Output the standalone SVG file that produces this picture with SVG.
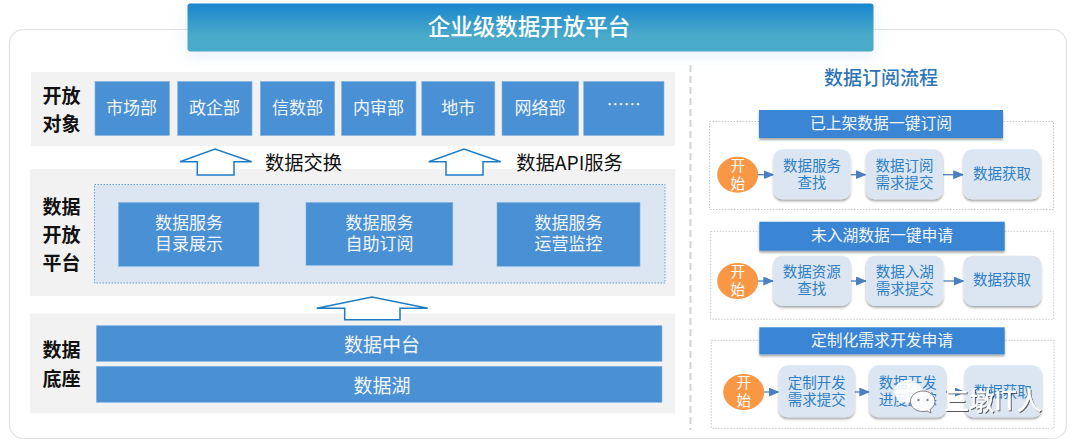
<svg xmlns="http://www.w3.org/2000/svg" width="1080" height="448" viewBox="0 0 1080 448">
<defs>
<linearGradient id="tg" x1="0" y1="0" x2="0" y2="1"><stop offset="0" stop-color="#1a86cf"/><stop offset="0.65" stop-color="#48a9c9"/><stop offset="1" stop-color="#4aaac8"/></linearGradient>
<filter id="sh" x="-10%" y="-10%" width="120%" height="130%"><feDropShadow dx="0" dy="2" stdDeviation="1" flood-color="#000" flood-opacity="0.35"/></filter>
<filter id="glow" x="-5%" y="-30%" width="110%" height="170%"><feDropShadow dx="0" dy="4" stdDeviation="8" flood-color="#4a90d0" flood-opacity="0.15"/></filter>
<filter id="wm" x="-10%" y="-20%" width="120%" height="140%"><feDropShadow dx="1" dy="1" stdDeviation=".5" flood-color="#333" flood-opacity="0.8"/></filter>
<marker id="ah" markerWidth="11" markerHeight="10" refX="10" refY="4.500" orient="auto" markerUnits="userSpaceOnUse"><path d="M0 0L11 4.500L0 9Z" fill="#4a7fc1"/></marker>
</defs>
<style>
text{font-family:"Noto Sans CJK SC","Noto Sans",sans-serif;text-anchor:middle;dominant-baseline:central;transform:translateY(-1.5px)}
.band{fill:#f2f2f2}
.b{fill:#4a90d4;stroke:#7fb2e0;stroke-width:.6}
.w{fill:#f2f6fb;font-size:17px}
.w2{fill:#f2f6fb;font-size:19px}
.l{fill:#111;font-size:19px;font-weight:700}
.t{fill:#3a85d5;filter:url(#sh)}
.tt{fill:#f2f6fb;font-size:15.800px}
.p{fill:#dce6f2;filter:url(#sh)}
.pt{fill:#2e7fc4;font-size:14.500px}
.st{fill:#f99745}
.stt{fill:#fff;font-size:14.500px}
.dash{fill:none;stroke:#bbb;stroke-width:.8;stroke-dasharray:1.500 1.500}
.up{fill:#fff;stroke:#1f7cc4;stroke-width:1.500}
.c{fill:none;stroke:#4a7fc1;stroke-width:1.300;marker-end:url(#ah)}
.k{fill:#111;font-size:19.300px}
</style>
<rect width="1080" height="448" fill="#fff"/>
<rect x="9.500" y="29.500" width="1057" height="409" rx="14" fill="#fff" stroke="#e2e2e2" stroke-width="1.200"/>
<line x1="690.500" y1="65" x2="690.500" y2="430" stroke="#d4d4d4" stroke-width="2" stroke-dasharray="7 4"/>

<g id="title"><rect x="187.500" y="3.500" width="686" height="48" rx="3" fill="url(#tg)" filter="url(#glow)"/>
<text x="529" y="26" fill="#fff" font-size="22.500" font-weight="500">企业级数据开放平台</text></g>

<g id="band-open"><rect class="band" x="31" y="72" width="644" height="74"/>
<text class="l" x="61.500" y="96">开放</text><text class="l" x="61.500" y="124">对象</text>
<rect class="b" x="95" y="81.500" width="74.500" height="54"/><text class="w" x="131.500" y="108">市场部</text>
<rect class="b" x="177.700" y="81.500" width="74.300" height="54"/><text class="w" x="214.500" y="108">政企部</text>
<rect class="b" x="260.300" y="81.500" width="74.400" height="54"/><text class="w" x="297.500" y="108">信数部</text>
<rect class="b" x="341.600" y="81.500" width="74.400" height="54"/><text class="w" x="378.500" y="108">内审部</text>
<rect class="b" x="421.800" y="81.500" width="73" height="54"/><text class="w" x="458.300" y="108">地市</text>
<rect class="b" x="502" y="81.500" width="76.600" height="54"/><text class="w" x="540" y="108">网络部</text>
<rect class="b" x="583.700" y="81.500" width="80.300" height="54"/><text class="w" x="623.700" y="105">……</text></g>

<g id="band-platform"><rect class="band" x="30" y="169" width="645" height="127"/>
<text class="l" x="61.500" y="206.500">数据</text><text class="l" x="61.500" y="235">开放</text><text class="l" x="61.500" y="262.500">平台</text>
<rect x="94.500" y="184.500" width="570.500" height="98.500" fill="#dce6f2" stroke="#4a90d4" stroke-width=".8" stroke-dasharray="1.500 1.500"/>
<rect class="b" x="118.500" y="202.500" width="140.500" height="63.800"/><text class="w" x="189" y="222.500">数据服务</text><text class="w" x="189" y="244">目录展示</text>
<rect class="b" x="306" y="202.500" width="146.800" height="62.800"/><text class="w" x="379.500" y="222.500">数据服务</text><text class="w" x="379.500" y="244">自助订阅</text>
<rect class="b" x="497" y="202.500" width="143" height="63.800"/><text class="w" x="568.500" y="222.500">数据服务</text><text class="w" x="568.500" y="244">运营监控</text></g>

<g id="band-base"><rect class="band" x="30" y="313.300" width="645" height="100"/>
<text class="l" x="61.500" y="350">数据</text><text class="l" x="61.500" y="379">底座</text>
<rect class="b" x="96.400" y="325.700" width="565.600" height="35.600"/><text class="w2" x="382" y="345">数据中台</text>
<rect class="b" x="96.400" y="366.300" width="565.600" height="36"/><text class="w2" x="382" y="386">数据湖</text></g>

<g id="connectors">
<path class="up" d="M180 161.700L215 149L251.700 161.700L234 161.700L234 175L197.300 175L197.300 161.700Z"/>
<path class="up" d="M428.700 161.700L464 149L500.700 161.700L483 161.700L483 175L446 175L446 161.700Z"/>
<path class="up" d="M316.800 308.300L372 297L427.700 308.300L400 308.300L400 319.700L344.700 319.700L344.700 308.300Z"/>
<line class="c" x1="758" y1="174.700" x2="773.500" y2="174.700"/><line class="c" x1="850.600" y1="174.700" x2="865.800" y2="174.700"/><line class="c" x1="943" y1="174.700" x2="963.200" y2="174.700"/>
<line class="c" x1="758" y1="281" x2="773.300" y2="281"/><line class="c" x1="850.700" y1="281" x2="866" y2="281"/><line class="c" x1="943.300" y1="281" x2="963.700" y2="281"/>
<line class="c" x1="764" y1="392" x2="778.700" y2="392"/><line class="c" x1="854.700" y1="392" x2="869.300" y2="392"/><line class="c" x1="946" y1="392" x2="964.700" y2="392"/>
</g>
<text class="k" x="303.500" y="163">数据交换</text>
<text class="k" x="569.500" y="163">数据API服务</text>

<text x="881" y="77.500" fill="#2e75b6" font-size="19" font-weight="500">数据订阅流程</text>

<g id="flow1"><rect class="dash" x="709.500" y="121.500" width="344" height="88"/>
<rect class="t" x="759" y="110" width="244" height="28"/><text class="tt" x="881" y="124">已上架数据一键订阅</text>
<ellipse class="st" cx="737.700" cy="174.700" rx="20.500" ry="18"/><text class="stt" x="737.700" y="165.500">开</text><text class="stt" x="737.700" y="183.500">始</text>
<rect class="p" x="773.500" y="149.300" width="77" height="50" rx="9"/><text class="pt" x="812" y="165.500">数据服务</text><text class="pt" x="812" y="183">查找</text>
<rect class="p" x="865.800" y="149.300" width="77.200" height="50" rx="9"/><text class="pt" x="904.500" y="165.500">数据订阅</text><text class="pt" x="904.500" y="183">需求提交</text>
<rect class="p" x="963.200" y="149.300" width="77.500" height="50" rx="9"/><text class="pt" x="1002" y="174">数据获取</text></g>

<g id="flow2"><rect class="dash" x="710.700" y="231.300" width="343" height="88"/>
<rect class="t" x="759.300" y="221.700" width="245.400" height="29"/><text class="tt" x="882" y="235.700">未入湖数据一键申请</text>
<ellipse class="st" cx="737.700" cy="281" rx="20.500" ry="18"/><text class="stt" x="737.700" y="272">开</text><text class="stt" x="737.700" y="290">始</text>
<rect class="p" x="773.300" y="255.700" width="77.400" height="50" rx="9"/><text class="pt" x="811.700" y="271.700">数据资源</text><text class="pt" x="811.700" y="289">查找</text>
<rect class="p" x="866" y="255.700" width="77.300" height="50" rx="9"/><text class="pt" x="904.700" y="271.700">数据入湖</text><text class="pt" x="904.700" y="289">需求提交</text>
<rect class="p" x="963.700" y="255.700" width="77.600" height="50" rx="9"/><text class="pt" x="1002" y="280.300">数据获取</text></g>

<g id="flow3"><rect class="dash" x="711.300" y="340.300" width="342.700" height="88"/>
<rect class="t" x="759.300" y="327.300" width="245.400" height="27"/><text class="tt" x="882" y="340.700">定制化需求开发申请</text>
<ellipse class="st" cx="743.700" cy="392" rx="20.500" ry="18"/><text class="stt" x="743.700" y="383">开</text><text class="stt" x="743.700" y="401">始</text>
<rect class="p" x="778.700" y="365.300" width="76" height="52" rx="9"/><text class="pt" x="816.700" y="383">定制开发</text><text class="pt" x="816.700" y="400">需求提交</text>
<rect class="p" x="869.300" y="365.300" width="76.700" height="52" rx="9"/><text class="pt" x="907.700" y="383">数据开发</text><text class="pt" x="907.700" y="400">进度跟踪</text>
<rect class="p" x="964.700" y="365.300" width="77" height="52" rx="9"/><text class="pt" x="1002.700" y="391.700">数据获取</text></g>

<g id="watermark">
<path d="M908 380c-8 0-14 5-14 11 0 4 2 7 5 9l-1 4 5-2c2 .5 3 .5 5 .5 8 0 14-5.500 14-11.500s-6-11-14-11Z" fill="#fff" fill-opacity=".9"/>
<path d="M923 391c-7 0-12.500 4.500-12.500 10.500s5.500 10 12.500 10c1.500 0 3-.2 4-.5l4 2-1-3.500c3-2 5-5 5-8 0-6-5.500-10.500-12-10.500Z" fill="#fff" fill-opacity=".95" stroke="#666" stroke-width=".8"/>
<circle cx="918.500" cy="400" r="1.200" fill="#888"/><circle cx="927.500" cy="400" r="1.200" fill="#888"/>
<text x="993" y="400" font-size="25" fill="#fff" stroke="#fff" stroke-width=".3" filter="url(#wm)">三墩IT人</text>
</g>
</svg>
